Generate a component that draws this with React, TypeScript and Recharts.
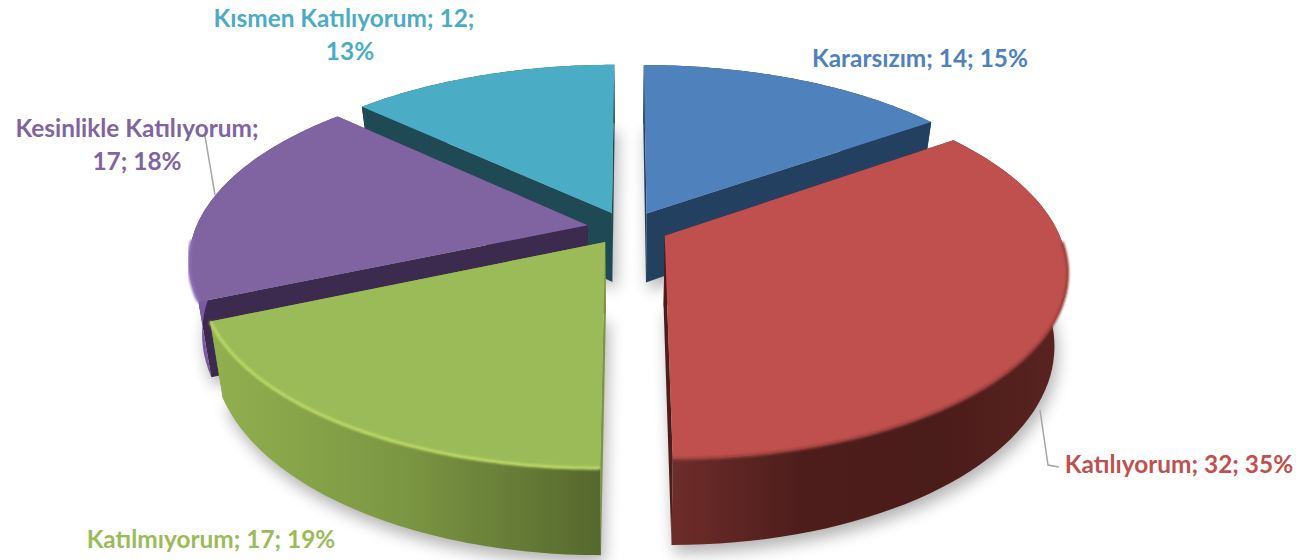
import React from "react";
import { PieChart, Pie, Cell } from "recharts";

const names = ["Kararsızım", "Katılıyorum", "Katılmıyorum", "Kesinlikle Katılıyorum", "Kısmen Katılıyorum"];
const values = [14, 32, 17, 17, 12];
const percents = ["15%", "35%", "19%", "18%", "13%"];
const colors = ["#4F81BD", "#C0504D", "#9BBB59", "#8064A2", "#4BACC6"];
const faceColors = ["#244061", "#4d1d1b", "#7b9642", "#3d2a4f", "#1f4a55"];
const rimColors = ["#5a8dc8", "#9a403c", "#bdda68", "#8f70c0", "#58b8d2"];
const wallStops: string[][] = [
  ["#244061", "#244061"],
  ["#6e2d2a", "#4d1d1b", "#4a1c1a", "#5a2320"],
  ["#92b04f", "#7b9642", "#56682e"],
  ["#7c5ca8", "#5b4178"],
  ["#1f4a55", "#1f4a55"],
];
const labelLines: string[][] = [
  ["Kararsızım; 14; 15%"],
  ["Katılıyorum; 32; 35%"],
  ["Katılmıyorum; 17; 19%"],
  ["Kesinlikle Katılıyorum;", "17; 18%"],
  ["Kısmen Katılıyorum; 12;", "13%"],
];

const rows = names.map((name, i) => ({ name, value: values[i], percentLabel: percents[i] }));

// layout of the projected pie
const CX = 628;
const CY = 228;
const RADIUS = 392;
const EXPLODE_X = 41;
const EXPLODE_Y = 36;
const PERSPECTIVE = 0.18;
const SQUASH = 0.459;
const DEPTH = 70;
const LOWER_SCALE = 0.97;
const LABEL_CENTERS = [
  [920, 57],
  [1179, 463],
  [211, 538],
  [137, 127],
  [344, 17],
];
const SECOND_LINE_SHIFT = [0, 0, 0, 0, 6];
const LINE_HEIGHT = 33;
const LEADERS: Record<number, string> = {
  1: "1040,410 1048,465 1059,467",
  3: "199,136 205,136 215,195",
};

const BACK = [0, 4];
const MIDDLE = [3];
const FRONT = [1, 2];
const RAD = Math.PI / 180;

type Pt = [number, number];

function makeProjector(cx: number, cy: number, r: number, mid: number) {
  const du = (Math.cos(mid * RAD) * EXPLODE_X) / r;
  const dv = (-Math.sin(mid * RAD) * EXPLODE_Y) / r;
  return (ux: number, vx: number, lower: boolean): Pt => {
    const u = ux + du;
    const v = vx + dv;
    const f = 1 / (1 - PERSPECTIVE * v);
    let x = cx + r * u * f;
    let y = cy + SQUASH * r * v * f;
    if (lower) {
      x = cx + (x - cx) * LOWER_SCALE;
      y += DEPTH * f;
    }
    return [x, y];
  };
}

const toPath = (pts: Pt[], close = true) =>
  "M" + pts.map((p) => `${p[0].toFixed(1)},${p[1].toFixed(1)}`).join("L") + (close ? "Z" : "");

function geometry(props: any) {
  const { cx, cy, outerRadius, startAngle, endAngle } = props;
  const mid = (startAngle + endAngle) / 2;
  const project = makeProjector(cx, cy, outerRadius, mid);
  const arc = (lower: boolean) => {
    const out: Pt[] = [];
    const n = 64;
    for (let i = 0; i <= n; i++) {
      const a = (startAngle + ((endAngle - startAngle) * i) / n) * RAD;
      out.push(project(Math.cos(a), -Math.sin(a), lower));
    }
    return out;
  };
  return {
    top: arc(false),
    bottom: arc(true),
    apexTop: project(0, 0, false),
    apexBottom: project(0, 0, true),
    cy,
  };
}

function ShadowSlice(props: any) {
  const g = geometry(props);
  return (
    <path
      d={toPath([g.apexBottom, ...g.bottom])}
      transform="translate(3,8)"
      fill="#000"
      opacity={0.3}
      filter="url(#softShadow)"
    />
  );
}

function Slice(props: any, layer: number[]) {
  const index = names.indexOf(props.name);
  if (!layer.includes(index)) return <g />;
  const g = geometry(props);
  const first = g.top[0];
  const last = g.top[g.top.length - 1];
  const firstB = g.bottom[0];
  const lastB = g.bottom[g.bottom.length - 1];
  const rim = g.top.filter((p) => p[1] > g.cy + 10);
  return (
    <g>
      <path d={toPath([g.apexTop, first, firstB, g.apexBottom])} fill={faceColors[index]} />
      <path d={toPath([g.apexTop, last, lastB, g.apexBottom])} fill={faceColors[index]} />
      <path d={toPath([...g.top, ...[...g.bottom].reverse()])} fill={`url(#wall${index})`} />
      <path d={toPath([g.apexTop, ...g.top])} fill={colors[index]} />
      {rim.length > 1 && (
        <path
          d={toPath(rim, false)}
          fill="none"
          stroke={rimColors[index]}
          strokeWidth={3}
          filter="url(#softRim)"
        />
      )}
    </g>
  );
}

function renderLabel(props: any) {
  const index = names.indexOf(props.name);
  const [x, y] = LABEL_CENTERS[index];
  return (
    <g key={props.name}>
      {LEADERS[index] && <polyline points={LEADERS[index]} fill="none" stroke="#a6a6a6" strokeWidth={1.5} />}
      <text
        textAnchor="middle"
        fontFamily="Lato, sans-serif"
        fontWeight={700}
        fontSize={24.4}
        fill={colors[index]}
      >
        {labelLines[index].map((line, i) => (
          <tspan
            key={i}
            x={x + (i > 0 ? SECOND_LINE_SHIFT[index] : 0)}
            y={y + i * LINE_HEIGHT}
            dominantBaseline="central"
          >
            {line}
          </tspan>
        ))}
      </text>
    </g>
  );
}

const cells = colors.map((c) => <Cell key={c} fill={c} stroke="none" />);

export default function App() {
  const common = {
    data: rows,
    dataKey: "value",
    nameKey: "name",
    cx: CX,
    cy: CY,
    outerRadius: RADIUS,
    startAngle: 90,
    endAngle: -270,
    paddingAngle: 0,
    isAnimationActive: false,
    labelLine: false,
  };
  return (
    <div style={{ position: "absolute", left: 0, top: 0, width: 1301, height: 560, background: "#fff" }}>
      <PieChart width={1301} height={560} margin={{ top: 0, right: 0, bottom: 0, left: 0 }}>
        <defs>
          <filter id="softShadow" x="-20%" y="-20%" width="140%" height="140%">
            <feGaussianBlur stdDeviation="8" />
          </filter>
          <filter id="softRim" x="-10%" y="-10%" width="120%" height="120%">
            <feGaussianBlur stdDeviation="1" />
          </filter>
          {wallStops.map((stops, i) => (
            <linearGradient id={`wall${i}`} key={i} x1="0" y1="0" x2="1" y2="0">
              {stops.map((c, j) => (
                <stop key={j} offset={stops.length > 1 ? j / (stops.length - 1) : 0} stopColor={c} />
              ))}
            </linearGradient>
          ))}
        </defs>
        <Pie {...common} shape={ShadowSlice} label={false}>
          {cells}
        </Pie>
        <Pie {...common} shape={(p: any) => Slice(p, BACK)} label={false}>
          {cells}
        </Pie>
        <Pie {...common} shape={(p: any) => Slice(p, MIDDLE)} label={false}>
          {cells}
        </Pie>
        <Pie {...common} shape={(p: any) => Slice(p, FRONT)} label={renderLabel}>
          {cells}
        </Pie>
      </PieChart>
    </div>
  );
}
